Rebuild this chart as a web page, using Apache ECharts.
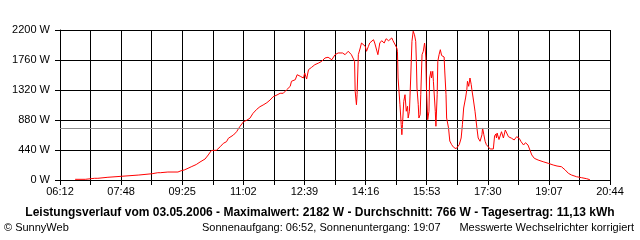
<!DOCTYPE html>
<html><head><meta charset="utf-8">
<script src="https://cdn.jsdelivr.net/npm/echarts@6/dist/echarts.min.js"></script>
<style>html,body{margin:0;padding:0;background:#fff}#c{width:640px;height:240px}</style>
</head><body><div id="c"></div>
<script>
const times = ["06:36","06:52","06:53","07:07","07:09","07:12","07:15","07:28","07:30","07:49","07:50","08:17","08:19","08:38","08:39","08:47","08:49","08:51","09:03","09:19","09:21","09:24","09:29","09:35","09:41","09:48","09:54","10:02","10:07","10:12","10:20","10:26","10:31","10:36","10:39","10:41","10:47","10:52","10:57","11:03","11:08","11:13","11:18","11:24","11:29","11:34","11:40","11:45","11:50","11:56","12:01","12:06","12:11","12:17","12:19","12:25","12:28","12:33","12:38","12:40","12:43","12:46","12:51","12:56","13:02","13:07","13:12","13:17","13:23","13:25","13:28","13:33","13:40","13:44","13:49","13:54","13:57","13:59","14:00","14:02","14:03","14:05","14:08","14:10","14:13","14:16","14:18","14:21","14:23","14:29","14:31","14:34","14:36","14:38","14:39","14:42","14:46","14:49","14:53","14:58","15:00","15:06","15:07","15:08","15:11","15:13","15:14","15:15","15:17","15:19","15:21","15:23","15:24","15:26","15:28","15:30","15:32","15:34","15:36","15:37","15:38","15:40","15:41","15:43","15:44","15:46","15:48","15:50","15:51","15:52","15:53","15:55","15:57","15:58","16:00","16:01","16:03","16:04","16:07","16:08","16:10","16:11","16:13","16:15","16:17","16:19","16:21","16:22","16:24","16:25","16:28","16:30","16:33","16:36","16:40","16:42","16:45","16:48","16:50","16:52","16:55","16:57","16:58","17:00","17:02","17:04","17:05","17:07","17:10","17:13","17:15","17:18","17:21","17:22","17:24","17:26","17:28","17:31","17:34","17:39","17:41","17:43","17:44","17:45","17:47","17:48","17:50","17:52","17:55","17:58","18:00","18:03","18:08","18:12","18:16","18:20","18:23","18:27","18:30","18:34","18:37","18:40","18:44","18:50","18:58","19:06","19:14","19:20","19:27","19:33","19:38","19:43","19:51","19:59","20:07","20:12"];
const watts = [10,10,25,25,40,25,40,40,54,54,73,73,92,92,107,107,88,107,117,117,98,136,147,172,198,227,264,308,367,433,436,488,538,562,612,626,660,708,782,855,876,905,978,1037,1075,1100,1134,1173,1222,1247,1272,1272,1320,1374,1448,1471,1544,1521,1496,1569,1481,1618,1653,1691,1716,1741,1789,1800,1764,1779,1838,1863,1863,1838,1888,1838,1814,1741,1301,1104,1251,1838,1936,2009,2024,1961,1888,1961,2009,2058,2009,2034,1838,1838,2009,2043,2009,2072,2043,2083,2043,1936,1888,1496,1104,811,664,811,1154,1251,1008,1081,909,1008,1496,2034,2182,2131,2034,1741,1349,1104,909,958,1251,1838,1888,2009,1936,1789,1349,884,1008,1496,1594,1496,1594,1448,1008,788,1251,1741,1838,1911,1826,1819,1804,1599,1251,909,763,572,518,480,459,455,518,616,811,1056,1203,1324,1448,1374,1496,1398,1324,1203,1008,763,616,568,664,763,664,568,518,494,455,455,645,675,616,689,708,594,587,708,616,733,708,635,612,587,635,612,562,513,547,513,440,367,318,293,268,245,220,205,195,147,98,73,48,34,19,5];
const tickLabels = ["06:12","07:48","09:25","11:02","12:39","14:16","15:53","17:30","19:07","20:44"];
const yTicks = [0,440,880,1320,1760,2200];
const averageW = 766;
const titleText = "Leistungsverlauf vom 03.05.2006 - Maximalwert: 2182 W - Durchschnitt: 766 W - Tagesertrag: 11,13 kWh";
const footLeft = "© SunnyWeb";
const footMid = "Sonnenaufgang: 06:52, Sonnenuntergang: 19:07";
const footRight = "Messwerte Wechselrichter korrigiert";

const startMin = 6*60+12, endMin = 20*60+44;
const steps = (tickLabels.length - 1) * 2;
const unit = (endMin - startMin) / steps;
function toX(t){ const p=t.split(':'); return (parseInt(p[0])*60+parseInt(p[1]) - startMin)/unit; }
const data = times.map((t,i)=>[toX(t), watts[i]]);
const F = 'Liberation Sans, Arial, sans-serif';
const chart = echarts.init(document.getElementById('c'), null, {renderer:'canvas'});
chart.setOption({
  animation:false,
  backgroundColor:'#fff',
  grid:{left:60,right:30,top:30,bottom:60,containLabel:false},
  xAxis:{type:'value',min:0,max:steps,interval:1,
    axisLine:{show:true,lineStyle:{color:'#000',width:1}},
    axisTick:{show:true,length:5,lineStyle:{color:'#000'}},
    splitLine:{show:true,lineStyle:{color:'#000',width:1}},
    axisLabel:{color:'#000',fontFamily:F,fontSize:11,margin:6,showMinLabel:true,showMaxLabel:true,hideOverlap:false,
      formatter:v=>{const i=Math.round(v);return i%2===0?tickLabels[i/2]:'';}}},
  yAxis:{type:'value',min:yTicks[0],max:yTicks[yTicks.length-1],interval:yTicks[1]-yTicks[0],
    axisLine:{show:true,lineStyle:{color:'#000',width:1}},
    axisTick:{show:true,length:5,lineStyle:{color:'#000'}},
    splitLine:{show:true,lineStyle:{color:'#000',width:1}},
    axisLabel:{color:'#000',fontFamily:F,fontSize:11,margin:10,formatter:v=>String(Math.round(v))+' W'}},
  series:[{type:'line',data:data,showSymbol:false,symbol:'none',
    lineStyle:{color:'#ff0000',width:1},
    markLine:{silent:true,symbol:'none',label:{show:false},lineStyle:{color:'#8c8c8c',type:'solid',width:1},
      data:[{yAxis:averageW}]}}],
  graphic:[
    {type:'text',left:'center',top:207,style:{text:titleText,font:'bold 12px '+F,fill:'#000'}},
    {type:'text',left:4,top:222,style:{text:footLeft,font:'11px '+F,fill:'#000'}},
    {type:'text',left:202,top:222,style:{text:footMid,font:'11px '+F,fill:'#000'}},
    {type:'text',right:6,top:222,style:{text:footRight,font:'11px '+F,fill:'#000'}}
  ]
});
</script></body></html>
